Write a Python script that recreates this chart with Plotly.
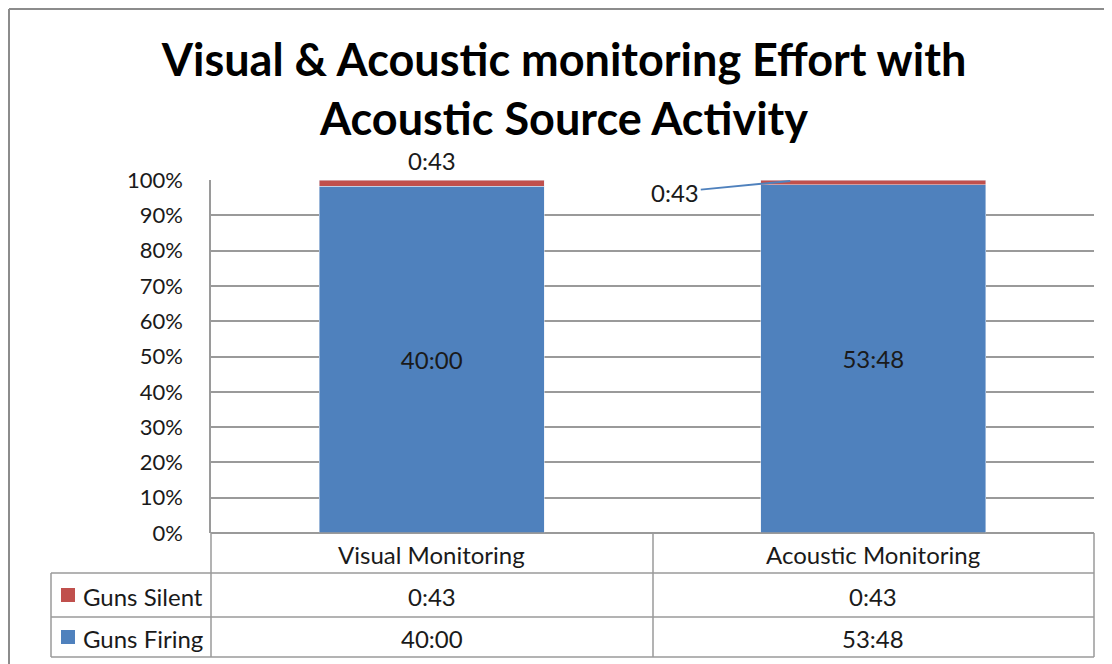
import plotly.graph_objects as go

categories = ["Visual Monitoring", "Acoustic Monitoring"]
series_names = ["Guns Silent", "Guns Firing"]
guns_silent = ["0:43", "0:43"]
guns_firing = ["40:00", "53:48"]
y_ticks = list(range(0, 101, 10))
y_tick_text = [f"{v}%" for v in y_ticks]

BLUE = "#4F81BD"
RED = "#C0504D"
GRID = "#9a9a9a"
FONT = "Lato"
TXT = "#1a1a1a"


def to_minutes(s):
    h, m = s.split(":")
    return int(h) * 60 + int(m)


firing_min = [to_minutes(v) for v in guns_firing]
silent_min = [to_minutes(v) for v in guns_silent]
silent_pct_top = [100.0 for _ in categories]

# the page body adds an 8px margin, so the figure is a bit smaller
OFF = 8
W, H = 1112 - OFF, 664 - OFF
PL, PR, PT, PB = 211, 1094, 180, 533  # plot box in page pixels
pw, ph = PR - PL, PB - PT


def px(x):
    return (x - PL) / pw


def py(y):
    return (PB - y) / ph


fig = go.Figure()
fig.add_trace(go.Bar(x=categories, y=firing_min, name=series_names[1], marker_color=BLUE,
                     width=0.51, text=guns_firing, textposition="inside",
                     insidetextanchor="middle",
                     textfont=dict(family=FONT, size=24, color=TXT),
                     hoverinfo="skip"))
fig.add_trace(go.Bar(x=categories, y=silent_min, name=series_names[0], marker_color=RED,
                     width=0.51, hoverinfo="skip"))

lfont = dict(family=FONT, size=24, color=TXT)
# data labels for the small red segments
fig.add_annotation(x=categories[0], y=silent_pct_top[0], text=guns_silent[0], showarrow=False,
                   yshift=20, font=lfont)
fig.add_annotation(x=categories[1], y=silent_pct_top[1] - 0.3, text=guns_silent[1],
                   showarrow=True, arrowhead=0, arrowwidth=2, arrowcolor=BLUE,
                   xshift=-83, ax=-115, ay=11, standoff=0, font=lfont)

shapes = []
line = dict(color=GRID, width=1.5)
# data table lines
for yy, x0 in [(533, 211), (573, 51), (617, 51), (657, 51)]:
    shapes.append(dict(type="line", xref="paper", yref="paper", x0=px(x0), x1=px(1094),
                       y0=py(yy), y1=py(yy), line=line))
for xx, y0 in [(51, 573), (211, 533), (653, 533), (1094, 533)]:
    shapes.append(dict(type="line", xref="paper", yref="paper", x0=px(xx), x1=px(xx),
                       y0=py(y0), y1=py(657), line=line))
# legend keys
for yc, col in [(595, RED), (637, BLUE)]:
    shapes.append(dict(type="rect", xref="paper", yref="paper", x0=px(61), x1=px(75),
                       y0=py(yc - 7), y1=py(yc + 7), fillcolor=col, line=dict(width=0)))
# outer chart frame
shapes.append(dict(type="line", xref="paper", yref="paper", x0=px(OFF + 1), x1=px(1130),
                   y0=py(OFF + 1), y1=py(OFF + 1), line=dict(color="#8c8c8c", width=2)))
shapes.append(dict(type="line", xref="paper", yref="paper", x0=px(OFF + 1), x1=px(OFF + 1),
                   y0=py(OFF + 1), y1=py(680), line=dict(color="#8c8c8c", width=2)))

for i, c in enumerate(categories):
    fig.add_annotation(x=c, y=py(554), yref="paper", yanchor="middle", text=c,
                       showarrow=False, font=lfont)
    fig.add_annotation(x=c, y=py(596), yref="paper", yanchor="middle", text=guns_silent[i],
                       showarrow=False, font=lfont)
    fig.add_annotation(x=c, y=py(638), yref="paper", yanchor="middle", text=guns_firing[i],
                       showarrow=False, font=lfont)
for name, yc in [(series_names[0], 596), (series_names[1], 638)]:
    fig.add_annotation(x=px(81), xref="paper", xanchor="left", y=py(yc), yref="paper",
                       yanchor="middle", text=name, showarrow=False, font=lfont)

fig.update_layout(
    width=W, height=H,
    margin=dict(l=PL - OFF, r=W - (PR - OFF), t=PT - OFF, b=H - (PB - OFF)),
    paper_bgcolor="white", plot_bgcolor="white",
    barmode="stack", barnorm="percent",
    showlegend=False,
    shapes=shapes,
    title=dict(text="<b>Visual & Acoustic monitoring Effort with<br>Acoustic Source Activity</b>",
               x=(564 - OFF) / W, xanchor="center", y=1 - (76 - OFF) / H, yanchor="middle",
               font=dict(family=FONT, size=45, color="black")),
    xaxis=dict(showticklabels=False, showgrid=False, showline=False, zeroline=False),
    yaxis=dict(range=[0, 100], tickmode="array", tickvals=y_ticks, ticktext=y_tick_text,
               showgrid=True, gridcolor=GRID, gridwidth=1.5,
               showline=True, linecolor=GRID, linewidth=1.5,
               zeroline=True, zerolinecolor=GRID, zerolinewidth=1.5,
               ticks="", ticklabelstandoff=22,
               tickfont=dict(family=FONT, size=22, color=TXT)),
)

fig.write_html("out.html")
